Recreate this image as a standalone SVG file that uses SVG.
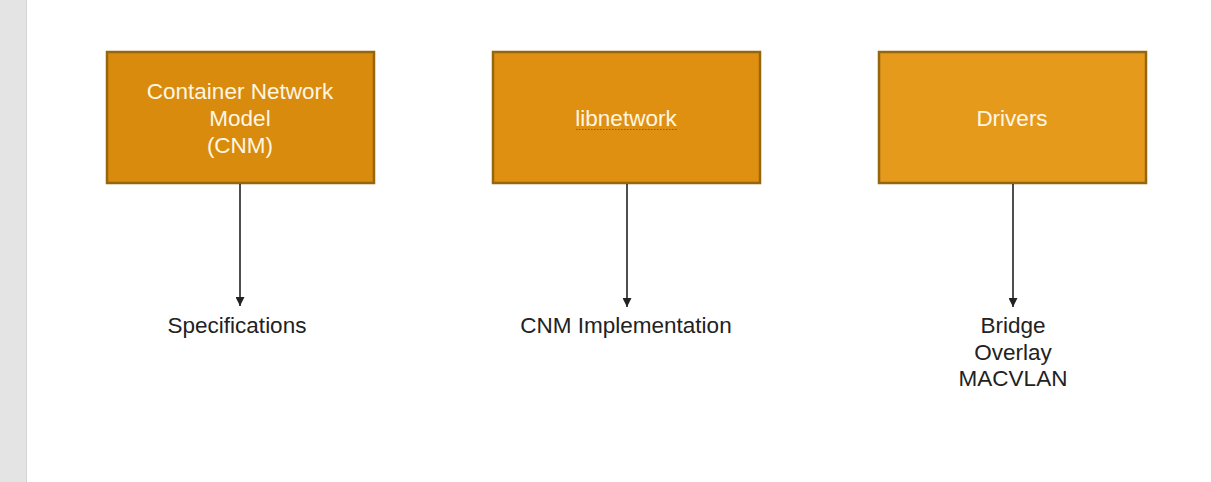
<svg xmlns="http://www.w3.org/2000/svg" width="1211" height="482" viewBox="0 0 1211 482">
<defs>
<style>
.box{stroke:#94660e;stroke-width:2.5}
.btxt{font-family:"Liberation Sans",Arial,sans-serif;font-size:22.5px;fill:#fdf6e4;text-anchor:middle}
.ltxt{font-family:"Liberation Sans",Arial,sans-serif;font-size:22.5px;fill:#222222;text-anchor:middle}
.conn{stroke:#222222;stroke-width:1.6;fill:none;marker-end:url(#arr)}
</style>
<marker id="arr" viewBox="0 0 10 10" refX="10" refY="5" markerWidth="9" markerHeight="9" markerUnits="userSpaceOnUse" orient="auto">
<path d="M0,0 L10,5 L0,10 z" fill="#222222"/>
</marker>
</defs>
<rect x="0" y="0" width="1211" height="482" fill="#ffffff"/>
<rect x="0" y="0" width="26" height="482" fill="#e4e4e4"/>
<line x1="26.5" y1="0" x2="26.5" y2="482" stroke="#d4d4d4" stroke-width="1"/>
<g id="node-cnm">
<rect class="box" x="107" y="52" width="267" height="131" fill="#d98b0d"/>
<text class="btxt" x="240" y="99">Container Network</text>
<text class="btxt" x="240" y="126">Model</text>
<text class="btxt" x="240" y="153">(CNM)</text>
</g>
<g id="node-libnetwork">
<rect class="box" x="493" y="52" width="267" height="131" fill="#e09010"/>
<text class="btxt" x="626" y="126">libnetwork</text>
<line x1="576" y1="129.5" x2="677" y2="129.5" stroke="#e0321e" stroke-width="1.2" stroke-dasharray="1.5,1.5"/>
</g>
<g id="node-drivers">
<rect class="box" x="879" y="52" width="267" height="131" fill="#e59a1c"/>
<text class="btxt" x="1012" y="126">Drivers</text>
</g>
<g id="connectors">
<line class="conn" x1="240" y1="184" x2="240" y2="306"/>
<line class="conn" x1="627" y1="184" x2="627" y2="307"/>
<line class="conn" x1="1013" y1="184" x2="1013" y2="307"/>
</g>
<g id="label-specs">
<text class="ltxt" x="237" y="333">Specifications</text>
</g>
<g id="label-impl">
<text class="ltxt" x="626" y="333">CNM Implementation</text>
</g>
<g id="label-drivers">
<text class="ltxt" x="1013" y="333">Bridge</text>
<text class="ltxt" x="1013" y="360">Overlay</text>
<text class="ltxt" x="1013" y="386">MACVLAN</text>
</g>
</svg>
